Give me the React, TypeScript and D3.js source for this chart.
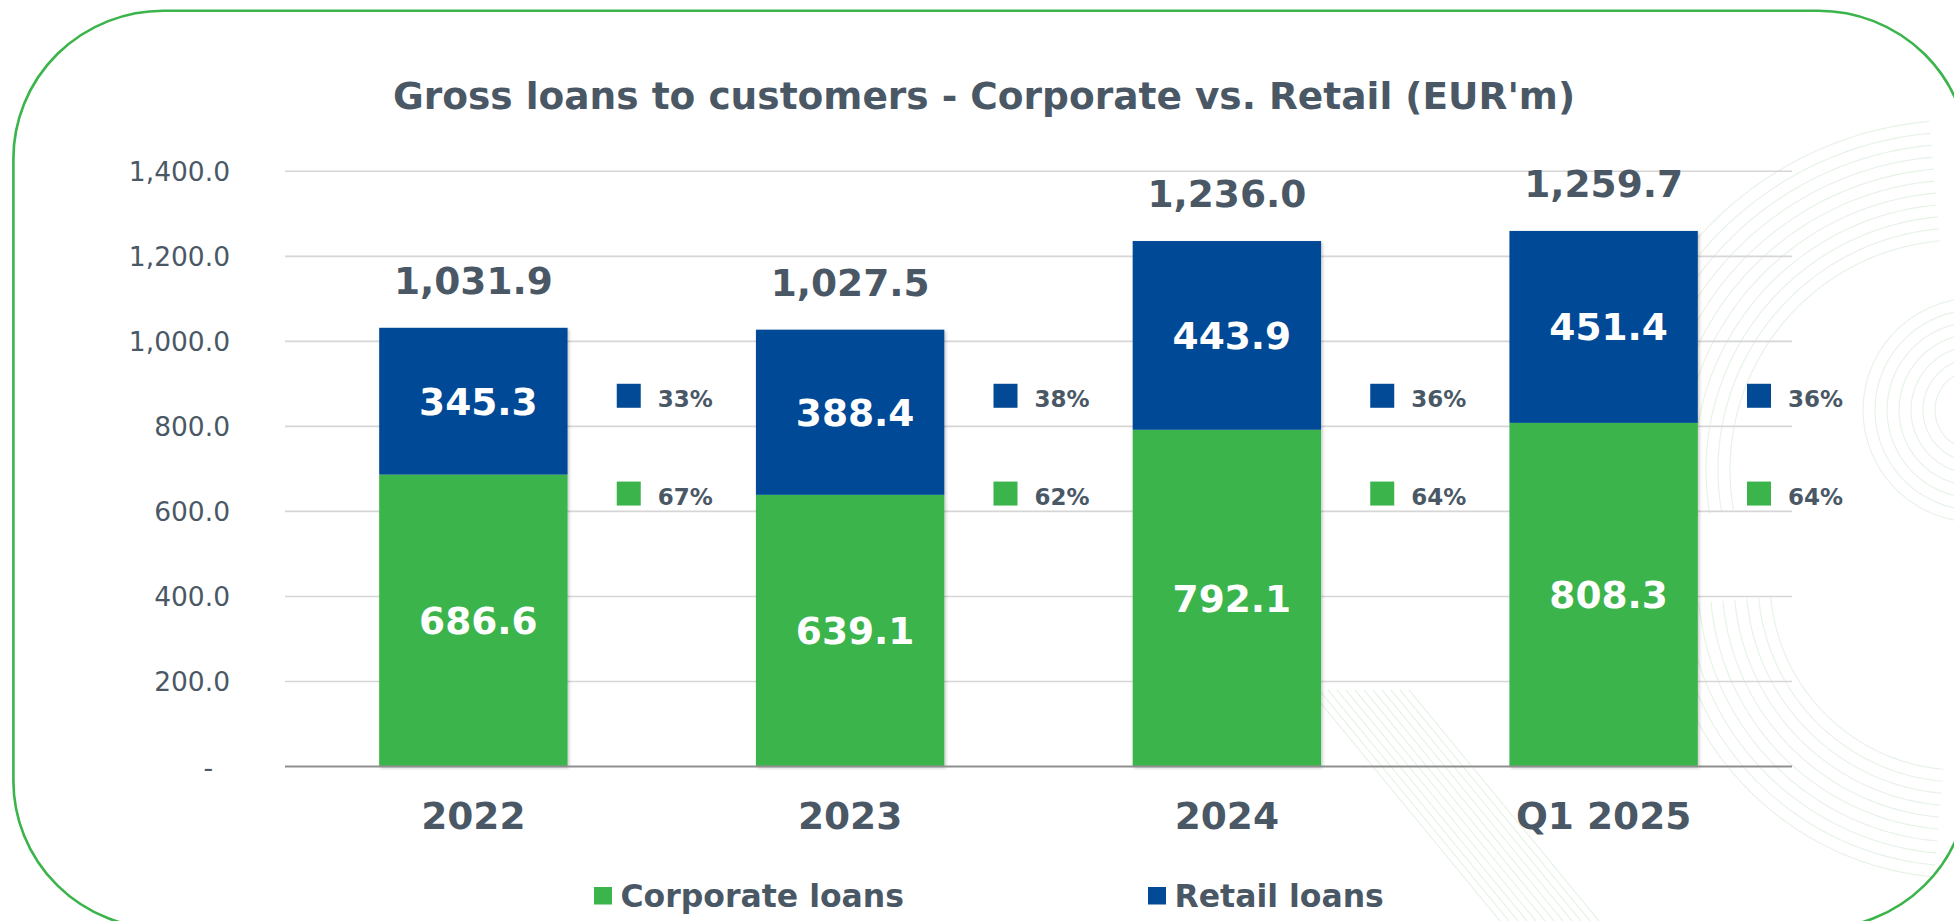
import React from "react";
import * as d3 from "d3";

// ---------- data ----------
const categories = ["2022", "2023", "2024", "Q1 2025"];
const corporateLoans = [686.6, 639.1, 792.1, 808.3];
const retailLoans = [345.3, 388.4, 443.9, 451.4];
const yTickValues = [0, 200, 400, 600, 800, 1000, 1200, 1400];
const seriesNames = ["Corporate loans", "Retail loans"];
const chartTitle = "Gross loans to customers - Corporate vs. Retail (EUR'm)";

// ---------- style / layout ----------
const W = 1954;
const H = 921;
const GREEN = "#3bb44b";
const BLUE = "#034a96";
const TEXT = "#4a5866";
const FONT = "'DejaVu Sans', Verdana, sans-serif";
const PLOT = { left: 285, right: 1792, top: 171.3, bottom: 766.5 };

function arcPath(cx: number, cy: number, r: number, a0: number, a1: number) {
  const p = d3.path();
  const n = 60;
  for (let i = 0; i <= n; i++) {
    const a = ((a0 + ((a1 - a0) * i) / n) * Math.PI) / 180;
    const x = cx + r * Math.cos(a);
    const y = cy - r * Math.sin(a);
    if (i === 0) p.moveTo(x, y);
    else p.lineTo(x, y);
  }
  return p.toString();
}

function Watermark() {
  const paths: string[] = [];
  // upper-right swooping contours
  for (let r = 230; r <= 360; r += 12) paths.push(arcPath(1960, 470, r, 95, 190));
  // small concentric rings at the right edge
  for (let r = 40; r <= 120; r += 12) paths.push(arcPath(1975, 410, r, 0, 360));
  // lower-right sweeping contours
  for (let r = 190; r <= 300; r += 12) paths.push(arcPath(1960, 580, r, 185, 265));
  const lines: string[] = [];
  for (let k = 0; k < 12; k++) {
    lines.push(`M${1310 + k * 9},${690} L${1500 + k * 9},${921}`);
  }
  return (
    <g fill="none" stroke="#e2f0e2" strokeWidth={1.2} opacity={0.8}>
      {paths.map((d, i) => (
        <path key={"a" + i} d={d} />
      ))}
      {lines.map((d, i) => (
        <path key={"l" + i} d={d} />
      ))}
    </g>
  );
}

export default function App() {
  React.useEffect(() => {
    document.body.style.margin = "0";
    document.body.style.overflow = "hidden";
  }, []);

  const rows = categories.map((c, i) => ({
    cat: c,
    corporate: corporateLoans[i],
    retail: retailLoans[i],
  }));
  const stacked = d3.stack<any>().keys(["corporate", "retail"])(rows);

  const x = d3
    .scaleBand<string>()
    .domain(categories)
    .range([PLOT.left, PLOT.right])
    .paddingInner(0.5)
    .paddingOuter(0.25);
  const y = d3.scaleLinear().domain([0, 1400]).range([PLOT.bottom, PLOT.top]);
  const colors = [GREEN, BLUE];
  const fmtTick = (v: number) => (v === 0 ? "-\u00a0\u00a0" : d3.format(",.1f")(v));
  const fmtVal = d3.format(",.1f");
  const bw = x.bandwidth();
  const step = x.step();

  return (
    <svg
      width={W}
      height={H}
      style={{ position: "absolute", left: 0, top: 0, background: "#fff" }}
      fontFamily={FONT}
    >
      <defs>
        <filter id="shadow" x="-10%" y="-10%" width="130%" height="130%">
          <feDropShadow dx="1.5" dy="1.5" stdDeviation="1.6" floodColor="#000" floodOpacity="0.22" />
        </filter>
      </defs>
      <rect x={0} y={0} width={W} height={H} fill="#fff" />
      <Watermark />
      <rect
        x={13.4}
        y={10.7}
        width={1955}
        height={918}
        rx={150}
        ry={148}
        fill="none"
        stroke={GREEN}
        strokeWidth={2.6}
      />

      <text
        x={984}
        y={109}
        textAnchor="middle"
        fontSize={37.5}
        fontWeight="bold"
        fill={TEXT}
      >
        {chartTitle}
      </text>

      {/* grid + y labels */}
      {yTickValues.map((t) => (
        <g key={t}>
          {t !== 0 && (
            <line
              x1={PLOT.left}
              x2={PLOT.right}
              y1={y(t)}
              y2={y(t)}
              stroke="#d6d6d6"
              strokeWidth={1.6}
            />
          )}
          <text x={230} y={y(t) + 10} textAnchor="end" fontSize={26.5} fill={TEXT}>
            {fmtTick(t)}
          </text>
        </g>
      ))}

      {/* bars */}
      {categories.map((c, i) => (
        <g key={c} filter="url(#shadow)">
          {stacked.map((s, k) => (
            <rect
              key={k}
              x={x(c)}
              width={bw}
              y={y(s[i][1])}
              height={y(s[i][0]) - y(s[i][1])}
              fill={colors[k]}
            />
          ))}
        </g>
      ))}

      <line
        x1={PLOT.left}
        x2={PLOT.right}
        y1={y(0)}
        y2={y(0)}
        stroke="#8f8f8f"
        strokeWidth={2}
      />

      {/* segment labels */}
      {categories.map((c, i) =>
        stacked.map((s, k) => (
          <text
            key={c + k}
            x={(x(c) as number) + bw / 2 + 5}
            y={(y(s[i][0]) + y(s[i][1])) / 2 + 13.5}
            textAnchor="middle"
            fontSize={37.5}
            fontWeight="bold"
            fill="#fff"
          >
            {fmtVal(s[i][1] - s[i][0])}
          </text>
        ))
      )}

      {/* totals */}
      {categories.map((c, i) => {
        const total = corporateLoans[i] + retailLoans[i];
        return (
          <text
            key={"t" + c}
            x={(x(c) as number) + bw / 2}
            y={y(total) - 34}
            textAnchor="middle"
            fontSize={37.5}
            fontWeight="bold"
            fill={TEXT}
          >
            {fmtVal(total)}
          </text>
        );
      })}

      {/* share markers */}
      {categories.map((c, i) => {
        const total = corporateLoans[i] + retailLoans[i];
        const shares = [corporateLoans[i] / total, retailLoans[i] / total];
        const anchors = [642, 872];
        const gx = (x(c) as number) + bw + (step - bw) / 2 - 45;
        return (
          <g key={"p" + c}>
            {shares.map((sh, k) => {
              const cy = y(anchors[k]);
              return (
                <g key={k}>
                  <rect x={gx} y={cy - 12} width={24} height={24} fill={colors[k]} />
                  <text
                    x={gx + 41}
                    y={cy + 11.5}
                    fontSize={23}
                    fontWeight="bold"
                    fill={TEXT}
                  >
                    {Math.round(sh * 100) + "%"}
                  </text>
                </g>
              );
            })}
          </g>
        );
      })}

      {/* x labels */}
      {categories.map((c) => (
        <text
          key={"x" + c}
          x={(x(c) as number) + bw / 2}
          y={829}
          textAnchor="middle"
          fontSize={37.5}
          fontWeight="bold"
          fill={TEXT}
        >
          {c}
        </text>
      ))}

      {/* legend */}
      {seriesNames.map((n, k) => {
        const lx = 594 + k * 554;
        return (
          <g key={n}>
            <rect x={lx} y={887} width={18} height={17.5} fill={colors[k]} />
            <text x={lx + 26.5} y={906.5} fontSize={31.5} fontWeight="bold" fill={TEXT}>
              {n}
            </text>
          </g>
        );
      })}
    </svg>
  );
}
